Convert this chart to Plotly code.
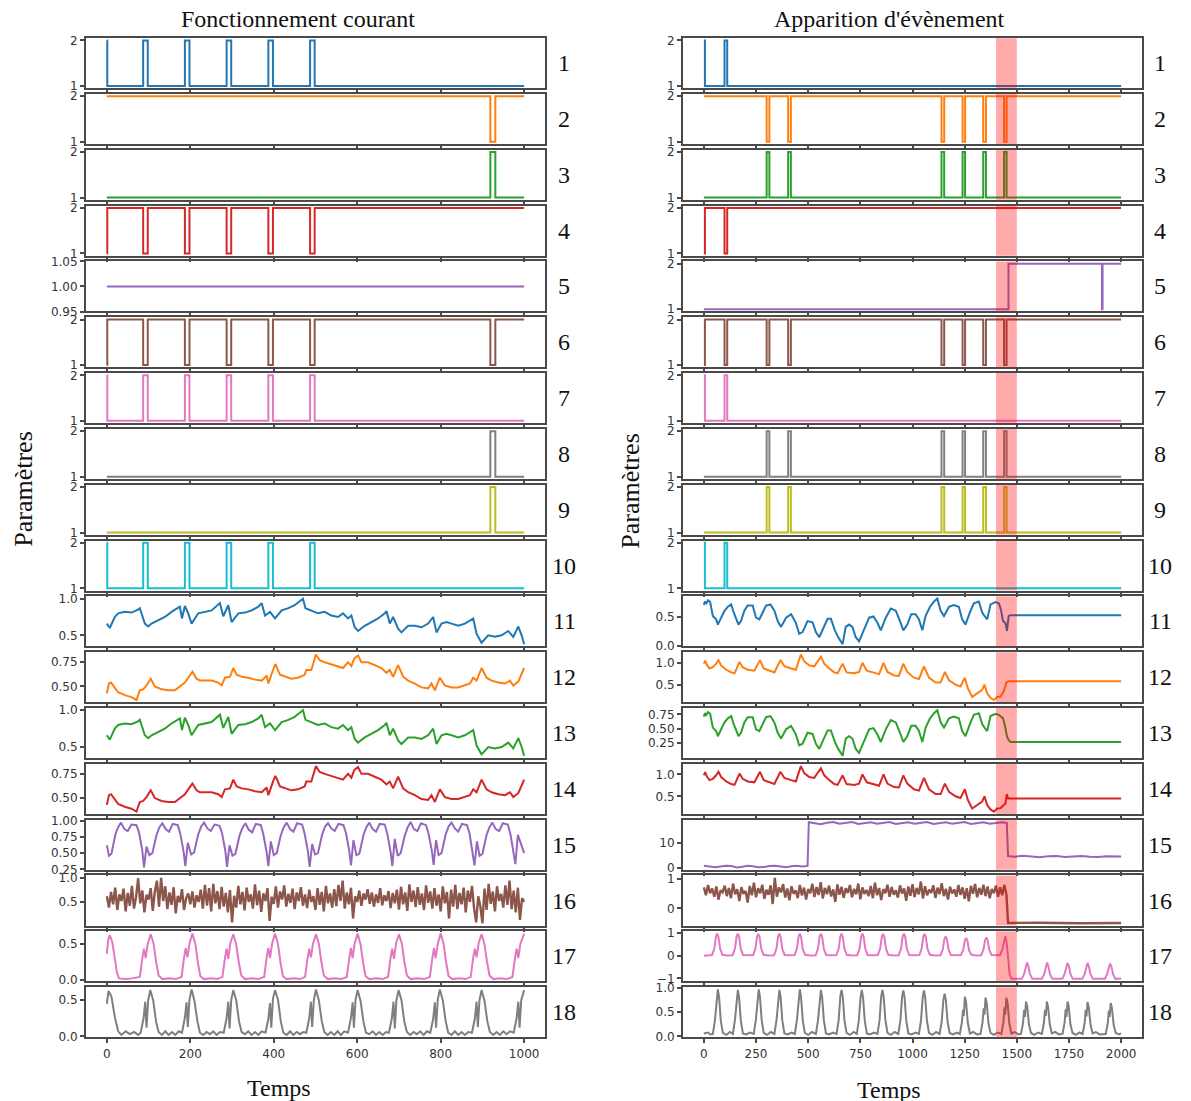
import plotly.graph_objects as go

# ---------------- DATA ----------------
# Left panel ("Fonctionnement courant"), time 0..1000 ; binary step series (change points)
L1_t = [0, 1, 87, 98, 187, 198, 287, 298, 387, 398, 487, 498, 1000]
L1_v = [2, 1, 2, 1, 2, 1, 2, 1, 2, 1, 2, 1, 1]
L2_t = [0, 919, 931, 1000]
L2_v = [2, 1, 2, 2]
L3_t = [0, 919, 931, 1000]
L3_v = [1, 2, 1, 1]
L4_t = [0, 1, 87, 98, 187, 198, 287, 298, 387, 398, 487, 498, 1000]
L4_v = [1, 2, 1, 2, 1, 2, 1, 2, 1, 2, 1, 2, 2]
L5_t = [0, 1000]
L5_v = [1, 1]
L6_t = [0, 1, 87, 98, 187, 198, 287, 298, 387, 398, 487, 498, 919, 931, 1000]
L6_v = [1, 2, 1, 2, 1, 2, 1, 2, 1, 2, 1, 2, 1, 2, 2]

L11_t = [0, 7, 19, 27, 43, 59, 75, 79, 91, 99, 107, 123, 139, 155, 175, 180, 187, 195, 203, 219,
         235, 251, 271, 279, 291, 299, 315, 331, 347, 363, 371, 379, 391, 403, 419, 435, 450, 462, 470, 476,
         490, 506, 522, 538, 554, 566, 578, 586, 594, 602, 618, 634, 650, 666, 670, 678, 686, 698, 706, 722,
         738, 754, 770, 782, 790, 802, 814, 826, 842, 858, 870, 878, 886, 898, 914, 930, 946, 962, 974, 986,
         994, 1000]
L11_v = [0.66, 0.60, 0.75, 0.80, 0.82, 0.81, 0.85, 0.87, 0.66, 0.62, 0.66, 0.70, 0.75, 0.82, 0.89, 0.73, 0.90, 0.80, 0.66, 0.80,
         0.82, 0.84, 0.94, 0.76, 0.91, 0.68, 0.80, 0.81, 0.84, 0.89, 0.94, 0.77, 0.82, 0.73, 0.84, 0.87, 0.91, 0.96, 1.00, 0.87,
         0.84, 0.80, 0.82, 0.77, 0.75, 0.80, 0.73, 0.77, 0.61, 0.56, 0.63, 0.68, 0.73, 0.80, 0.83, 0.66, 0.75, 0.59, 0.54, 0.63,
         0.63, 0.61, 0.66, 0.75, 0.54, 0.66, 0.68, 0.66, 0.63, 0.66, 0.70, 0.73, 0.52, 0.40, 0.50, 0.48, 0.50, 0.56, 0.48, 0.62,
         0.50, 0.38]

L12_t = [0, 5, 10, 19, 27, 43, 59, 71, 79, 87, 95, 105, 115, 131, 147, 163, 175, 187, 195, 205,
         215, 223, 235, 251, 267, 275, 283, 295, 303, 311, 323, 339, 355, 371, 383, 387, 399, 404, 415, 427,
         442, 458, 474, 478, 490, 501, 510, 522, 538, 554, 566, 578, 586, 593, 602, 610, 626, 642, 658, 670,
         678, 686, 698, 710, 722, 738, 754, 770, 778, 786, 798, 810, 826, 842, 858, 870, 878, 886, 898, 910,
         922, 938, 954, 966, 974, 986, 1000]
L12_v = [0.43, 0.53, 0.54, 0.48, 0.44, 0.41, 0.39, 0.36, 0.46, 0.47, 0.51, 0.58, 0.50, 0.47, 0.46, 0.46, 0.50, 0.54, 0.59, 0.65,
         0.58, 0.56, 0.56, 0.56, 0.54, 0.51, 0.59, 0.60, 0.69, 0.62, 0.60, 0.59, 0.57, 0.56, 0.61, 0.53, 0.68, 0.73, 0.62, 0.60,
         0.58, 0.59, 0.62, 0.67, 0.67, 0.83, 0.77, 0.75, 0.73, 0.71, 0.69, 0.75, 0.71, 0.79, 0.82, 0.75, 0.75, 0.72, 0.69, 0.64,
         0.67, 0.60, 0.72, 0.60, 0.56, 0.53, 0.49, 0.48, 0.53, 0.46, 0.59, 0.51, 0.49, 0.49, 0.51, 0.53, 0.59, 0.56, 0.69, 0.59,
         0.56, 0.54, 0.53, 0.56, 0.51, 0.55, 0.69]

L15_t = [0, 5, 11, 21, 27, 34, 42, 50, 59, 71, 77, 85, 89, 95,
         102, 109, 119, 126, 133, 141, 149, 158, 170, 176, 184, 188, 194,
         202, 209, 219, 226, 233, 241, 249, 258, 270, 276, 284, 288, 294,
         301, 308, 318, 325, 332, 340, 348, 357, 369, 375, 383, 387, 393,
         400, 407, 417, 424, 431, 439, 447, 456, 468, 474, 482, 486, 492,
         499, 506, 516, 523, 530, 538, 546, 555, 567, 573, 581, 585, 591,
         598, 605, 615, 622, 629, 637, 645, 654, 666, 672, 680, 684, 690,
         697, 704, 714, 721, 728, 736, 744, 753, 765, 771, 779, 783, 789,
         795, 802, 812, 819, 826, 834, 842, 851, 863, 869, 877, 881, 887,
         893, 900, 910, 917, 924, 932, 940, 949, 961, 967, 975, 979, 985, 1000]
L15_v = [0.62, 0.46, 0.49, 0.80, 0.90, 0.97, 0.87, 0.84, 0.94, 0.93, 0.82, 0.54, 0.28, 0.60,
         0.47, 0.50, 0.78, 0.90, 0.96, 0.87, 0.83, 0.95, 0.93, 0.80, 0.52, 0.30, 0.66,
         0.48, 0.51, 0.79, 0.91, 0.97, 0.88, 0.84, 0.94, 0.92, 0.81, 0.53, 0.29, 0.62,
         0.46, 0.49, 0.77, 0.89, 0.96, 0.86, 0.82, 0.95, 0.93, 0.79, 0.51, 0.30, 0.68,
         0.47, 0.50, 0.78, 0.90, 0.97, 0.87, 0.83, 0.96, 0.94, 0.80, 0.52, 0.29, 0.64,
         0.48, 0.50, 0.79, 0.91, 0.96, 0.88, 0.84, 0.95, 0.93, 0.81, 0.53, 0.31, 0.70,
         0.47, 0.49, 0.78, 0.90, 0.97, 0.87, 0.83, 0.95, 0.94, 0.80, 0.52, 0.30, 0.72,
         0.46, 0.50, 0.77, 0.90, 0.98, 0.87, 0.84, 0.96, 0.93, 0.80, 0.53, 0.32, 0.70,
         0.47, 0.50, 0.79, 0.91, 0.97, 0.88, 0.83, 0.95, 0.93, 0.81, 0.52, 0.31, 0.68,
         0.46, 0.49, 0.78, 0.90, 0.97, 0.87, 0.84, 0.96, 0.94, 0.80, 0.52, 0.33, 0.78, 0.50]

L16_step = 5  # sampling step of the noisy series (time units)
L16_v = [0.62, 0.38, 0.71, 0.45, 0.80, 0.33, 0.66, 0.52, 0.78, 0.30,
         0.69, 0.42, 0.84, 0.36, 0.60, 1.00, 0.47, 0.74, 0.28, 0.65,
         0.55, 0.79, 0.31, 0.72, 0.95, 0.40, 1.01, 0.52, 0.83, 0.35,
         0.70, 0.44, 0.81, 0.26, 0.63, 0.49, 0.77, 0.33, 0.58, 0.68,
         0.45, 0.72, 0.38, 0.64, 0.50, 0.76, 0.36, 0.86, 0.42, 0.79,
         0.30, 0.88, 0.47, 0.73, 0.35, 0.82, 0.40, 0.69, 0.28, 0.75,
         0.07, 0.63, 0.38, 0.84, 0.45, 0.71, 0.32, 0.80, 0.50, 0.66,
         0.36, 0.87, 0.43, 0.74, 0.29, 0.68, 0.52, 0.79, 0.10, 0.61,
         0.46, 0.83, 0.38, 0.72, 0.55, 0.85, 0.40, 0.67, 0.48, 0.78,
         0.35, 0.70, 0.52, 0.81, 0.42, 0.66, 0.37, 0.76, 0.50, 0.62,
         0.33, 0.79, 0.44, 0.71, 0.30, 0.84, 0.47, 0.68, 0.38, 0.77,
         0.41, 0.86, 0.52, 0.95, 0.36, 0.70, 0.45, 0.80, 0.15, 0.62,
         0.50, 0.74, 0.42, 0.68, 0.55, 0.77, 0.46, 0.70, 0.40, 0.66,
         0.48, 0.79, 0.43, 0.64, 0.52, 0.73, 0.37, 0.69, 0.47, 0.76,
         0.34, 0.82, 0.45, 0.70, 0.31, 0.87, 0.50, 0.74, 0.39, 0.81,
         0.44, 0.68, 0.33, 0.85, 0.48, 0.72, 0.36, 0.79, 0.42, 0.66,
         0.30, 0.83, 0.47, 0.71, 0.15, 0.76, 0.40, 0.86, 0.35, 0.69,
         0.45, 0.80, 0.28, 0.74, 0.50, 0.84, 0.37, 0.07, 0.62, 0.41,
         0.05, 0.78, 0.33, 0.88, 0.46, 0.72, 0.30, 0.83, 0.52, 0.67,
         0.38, 0.85, 0.44, 0.95, 0.35, 0.74, 0.28, 0.80, 0.12, 0.58,
         0.50]

L17_t = [0, 3, 7, 13, 19, 24, 29, 45, 60,
         79, 85, 89, 93, 98, 105, 112, 118, 124, 133, 150, 165,
         179, 185, 189, 193, 198, 205, 212, 218, 224, 233, 250, 265,
         277, 283, 287, 291, 296, 303, 310, 316, 322, 331, 348, 363,
         377, 383, 387, 391, 396, 403, 410, 416, 422, 431, 448, 463,
         475, 481, 485, 489, 494, 501, 508, 514, 520, 529, 546, 561,
         575, 581, 585, 589, 594, 601, 608, 614, 620, 629, 646, 661,
         674, 680, 684, 688, 693, 700, 707, 713, 719, 728, 745, 760,
         774, 780, 784, 788, 793, 800, 807, 813, 819, 828, 845, 860,
         872, 878, 882, 886, 891, 898, 905, 911, 917, 926, 943, 958,
         972, 978, 982, 986, 991, 1000]
L17_v = [0.36, 0.55, 0.62, 0.52, 0.30, 0.10, 0.02, 0.01, 0.02,
         0.04, 0.30, 0.43, 0.30, 0.50, 0.63, 0.50, 0.25, 0.06, 0.01, 0.02, 0.01,
         0.04, 0.31, 0.44, 0.31, 0.50, 0.64, 0.50, 0.24, 0.05, 0.01, 0.02, 0.01,
         0.04, 0.30, 0.43, 0.29, 0.51, 0.63, 0.49, 0.25, 0.06, 0.01, 0.02, 0.01,
         0.04, 0.31, 0.44, 0.30, 0.50, 0.64, 0.50, 0.24, 0.05, 0.01, 0.02, 0.01,
         0.04, 0.30, 0.43, 0.31, 0.50, 0.63, 0.50, 0.25, 0.06, 0.01, 0.02, 0.01,
         0.04, 0.30, 0.44, 0.30, 0.51, 0.64, 0.49, 0.24, 0.05, 0.01, 0.02, 0.01,
         0.04, 0.31, 0.43, 0.29, 0.50, 0.63, 0.50, 0.25, 0.06, 0.01, 0.02, 0.01,
         0.04, 0.30, 0.44, 0.30, 0.50, 0.64, 0.50, 0.24, 0.05, 0.01, 0.02, 0.01,
         0.04, 0.31, 0.43, 0.31, 0.51, 0.63, 0.49, 0.25, 0.06, 0.01, 0.02, 0.01,
         0.04, 0.30, 0.43, 0.30, 0.50, 0.64]

L18_t = [0, 4, 11, 19, 27, 35, 45, 55, 65, 75,
         81, 88, 92, 95, 99, 104, 111, 118, 124, 132, 140, 148, 156, 164, 172,
         180, 187, 191, 194, 198, 203, 210, 217, 223, 231, 239, 247, 255, 263, 271,
         280, 287, 291, 294, 298, 303, 310, 317, 323, 331, 339, 347, 355, 363, 371,
         380, 387, 391, 394, 398, 403, 410, 417, 423, 431, 439, 447, 455, 463, 471,
         478, 485, 489, 492, 496, 501, 508, 515, 521, 529, 537, 545, 553, 561, 569,
         578, 585, 589, 592, 596, 601, 608, 615, 621, 629, 637, 645, 653, 661, 669,
         676, 683, 687, 690, 694, 699, 706, 713, 719, 727, 735, 743, 751, 759, 767,
         775, 782, 786, 789, 793, 798, 805, 812, 818, 826, 834, 842, 850, 858, 866,
         875, 882, 886, 889, 893, 898, 905, 912, 918, 926, 934, 942, 950, 958, 966,
         975, 982, 986, 989, 993, 1000]
L18_v = [0.45, 0.63, 0.55, 0.27, 0.07, 0.02, 0.07, 0.03, 0.06, 0.02,
         0.05, 0.25, 0.48, 0.12, 0.50, 0.64, 0.50, 0.20, 0.06, 0.02, 0.07, 0.02, 0.06, 0.02, 0.07,
         0.05, 0.26, 0.47, 0.13, 0.51, 0.65, 0.49, 0.21, 0.05, 0.02, 0.06, 0.03, 0.07, 0.02, 0.06,
         0.05, 0.25, 0.48, 0.11, 0.50, 0.64, 0.50, 0.20, 0.06, 0.03, 0.07, 0.02, 0.06, 0.02, 0.07,
         0.05, 0.24, 0.46, 0.12, 0.52, 0.64, 0.51, 0.20, 0.05, 0.02, 0.07, 0.02, 0.06, 0.03, 0.06,
         0.05, 0.25, 0.48, 0.13, 0.50, 0.65, 0.50, 0.21, 0.06, 0.02, 0.06, 0.02, 0.07, 0.02, 0.07,
         0.05, 0.26, 0.47, 0.12, 0.51, 0.64, 0.49, 0.20, 0.05, 0.03, 0.07, 0.02, 0.06, 0.02, 0.06,
         0.05, 0.25, 0.48, 0.11, 0.50, 0.64, 0.50, 0.20, 0.06, 0.02, 0.06, 0.03, 0.07, 0.02, 0.07,
         0.05, 0.24, 0.47, 0.12, 0.51, 0.65, 0.50, 0.21, 0.05, 0.02, 0.07, 0.02, 0.06, 0.02, 0.06,
         0.05, 0.25, 0.48, 0.13, 0.50, 0.64, 0.49, 0.20, 0.06, 0.02, 0.06, 0.02, 0.07, 0.03, 0.07,
         0.05, 0.25, 0.48, 0.12, 0.50, 0.64]

# Right panel ("Apparition d'évènement"), time 0..2000
R1_t = [0, 5, 99, 112, 2000]
R1_v = [2, 1, 2, 1, 1]
R2_t = [0, 301, 314, 404, 417, 1139, 1152, 1240, 1252, 1339, 1352, 1439, 1451, 2000]
R2_v = [2, 1, 2, 1, 2, 1, 2, 1, 2, 1, 2, 1, 2, 2]
R3_t = [0, 301, 314, 404, 417, 1139, 1152, 1240, 1252, 1339, 1352, 1439, 1451, 2000]
R3_v = [1, 2, 1, 2, 1, 2, 1, 2, 1, 2, 1, 2, 1, 1]
R4_t = [0, 5, 99, 112, 2000]
R4_v = [1, 2, 1, 2, 2]
R5_t = [0, 1460, 1908, 1911, 2000]
R5_v = [1, 2, 1, 2, 2]
R6_t = [0, 5, 99, 112, 301, 314, 404, 417, 1139, 1152, 1240, 1252, 1339, 1352, 1439, 1451, 2000]
R6_v = [1, 2, 1, 2, 1, 2, 1, 2, 1, 2, 1, 2, 1, 2, 1, 2, 2]

R11_t = [0, 5, 12, 20, 30, 43, 59, 67, 83, 99, 115, 131, 143, 155, 166, 178, 194, 210, 234, 250,
         266, 282, 298, 319, 338, 354, 370, 394, 418, 441, 457, 473, 497, 521, 537, 553, 569, 593, 609, 628,
         644, 665, 680, 696, 712, 728, 744, 765, 792, 813, 832, 848, 872, 896, 920, 940, 956, 975, 994, 1015,
         1031, 1047, 1063, 1084, 1103, 1119, 1135, 1151, 1175, 1198, 1222, 1238, 1254, 1275, 1294, 1318, 1334, 1345, 1358, 1374,
         1398, 1414]
R11_v = [0.71, 0.77, 0.74, 0.79, 0.76, 0.52, 0.46, 0.37, 0.49, 0.61, 0.68, 0.72, 0.58, 0.46, 0.37, 0.43, 0.61, 0.70, 0.70, 0.49,
         0.46, 0.58, 0.70, 0.72, 0.61, 0.43, 0.33, 0.49, 0.55, 0.40, 0.21, 0.24, 0.43, 0.41, 0.24, 0.15, 0.27, 0.47, 0.47, 0.27,
         0.15, 0.03, 0.33, 0.37, 0.33, 0.15, 0.08, 0.27, 0.49, 0.51, 0.40, 0.27, 0.49, 0.65, 0.61, 0.43, 0.27, 0.37, 0.55, 0.55,
         0.46, 0.27, 0.52, 0.68, 0.77, 0.82, 0.61, 0.52, 0.68, 0.71, 0.68, 0.46, 0.37, 0.58, 0.74, 0.77, 0.58, 0.52, 0.46, 0.72,
         0.76, 0.74]
R11_tail_t = [1425, 1434, 1445, 1453, 1461, 1469, 2000]
R11_tail_v = [0.61, 0.43, 0.40, 0.26, 0.52, 0.53, 0.53]
R13_tail_t = [1425, 1434, 1445, 1453, 1461, 1470, 2000]
R13_tail_v = [0.71, 0.68, 0.52, 0.36, 0.30, 0.27, 0.27]

R12_t = [0, 6, 16, 27, 43, 59, 70, 83, 107, 131, 147, 171, 186, 210, 242, 269, 287, 314, 338, 367,
         386, 418, 441, 465, 481, 505, 529, 561, 577, 601, 625, 641, 665, 684, 720, 744, 760, 781, 816, 840,
         861, 880, 912, 935, 956, 975, 1007, 1031, 1055, 1079, 1111, 1135, 1155, 1175, 1206, 1230, 1251, 1265, 1286, 1310,
         1334, 1345, 1358, 1374, 1390, 1406, 1422]
R12_v = [0.98, 1.05, 0.94, 0.87, 0.90, 0.98, 1.06, 0.94, 0.84, 0.78, 0.76, 1.02, 0.90, 0.84, 0.82, 1.06, 0.87, 0.82, 0.78, 1.06,
         0.92, 0.87, 0.84, 1.19, 1.03, 0.94, 0.92, 1.14, 0.98, 0.87, 0.78, 0.76, 0.98, 0.78, 0.76, 0.79, 1.00, 0.82, 0.78, 0.74,
         1.00, 0.79, 0.71, 0.70, 0.98, 0.79, 0.66, 0.63, 0.92, 0.66, 0.55, 0.55, 0.79, 0.60, 0.50, 0.46, 0.66, 0.42, 0.22, 0.30,
         0.38, 0.50, 0.30, 0.20, 0.15, 0.22, 0.23]
R12_tail_t = [1437, 1450, 1461, 2000]
R12_tail_v = [0.34, 0.55, 0.58, 0.58]
R14_tail_t = [1437, 1445, 1452, 1458, 1470, 2000]
R14_tail_v = [0.30, 0.33, 0.55, 0.45, 0.45, 0.45]

R15_t = [0, 25, 55, 80, 105, 130, 160, 185, 210, 235, 260, 290, 315, 340, 365, 395, 420, 445, 470, 497,
         503, 530, 560, 590, 620, 650, 680, 710, 740, 770, 800, 830, 860, 890, 920, 950, 980, 1010, 1040, 1070,
         1100, 1130, 1160, 1190, 1220, 1250, 1280, 1310, 1340, 1370, 1400, 1430, 1452,
         1458, 1490, 1530, 1570, 1610, 1650, 1690, 1730, 1770, 1810, 1850, 1890, 1930, 1970, 2000]
R15_v = [1.0, 0.8, 0.4, 0.7, 1.0, 0.9, 0.3, 0.6, 1.0, 0.8, 0.4, 0.5, 0.9, 1.0, 0.6, 0.4, 0.8, 1.0, 0.7, 0.9,
         18.1, 17.6, 17.3, 17.9, 18.2, 17.5, 17.8, 18.2, 17.4, 17.9, 18.1, 17.5, 17.8, 18.2, 17.4, 17.9, 18.1, 17.5, 17.8, 18.2,
         17.4, 17.9, 18.1, 17.5, 17.8, 18.2, 17.4, 17.9, 18.1, 17.5, 17.9, 18.1, 17.8,
         4.8, 4.5, 4.9, 4.6, 4.3, 4.7, 4.8, 4.4, 4.6, 4.8, 4.5, 4.4, 4.7, 4.5, 4.6]

R16_step = 10
R16_v = [0.72, 0.45, 0.80, 0.52, 0.68, 0.40, 0.75, 0.30, 0.62, 0.55,
         0.78, 0.42, 0.70, 0.35, 0.85, 0.48, 0.66, 0.25, 0.73, 0.50,
         0.60, 0.20, 0.77, 0.45, 0.88, 0.38, 0.69, 0.52, 0.81, 0.33,
         0.64, 0.47, 0.79, 0.15, 1.05, 0.40, 0.72, 0.55, 0.83, 0.37,
         0.68, 0.28, 0.76, 0.50, 0.62, 0.35, 0.80, 0.44, 0.71, 0.30,
         0.66, 0.52, 0.84, 0.39, 0.73, 0.46, 0.90, 0.34, 0.70, 0.49,
         0.78, 0.41, 0.65, 0.22, 0.82, 0.47, 0.74, 0.36, 0.69, 0.53,
         0.80, 0.38, 0.67, 0.48, 0.85, 0.31, 0.72, 0.50, 0.63, 0.42,
         0.77, 0.35, 0.88, 0.45, 0.70, 0.29, 0.66, 0.52, 0.81, 0.40,
         0.73, 0.47, 0.62, 0.37, 0.79, 0.51, 0.68, 0.26, 0.75, 0.43,
         0.83, 0.39, 0.70, 0.48, 0.92, 0.34, 0.76, 0.45, 0.64, 0.53,
         0.79, 0.36, 0.71, 0.49, 0.86, 0.42, 0.67, 0.30, 0.74, 0.51,
         0.65, 0.40, 0.80, 0.46, 0.72, 0.33, 0.69, 0.24, 0.77, 0.50,
         0.84, 0.38, 0.70, 0.47, 0.81, 0.42, 0.75, 0.35, 0.66, 0.52,
         0.78, 0.40, 0.72, 0.45, 0.80, 0.48]
R16_tail_t = [1458, 1600, 1800, 2000]
R16_tail_v = [-0.50, -0.49, -0.51, -0.50]

R17_t = [0, 20,
         39, 50, 58, 64, 70, 78, 89, 113,
         138, 149, 157, 163, 169, 177, 188, 212,
         236, 247, 255, 261, 267, 275, 286, 311,
         337, 348, 356, 362, 368, 376, 387, 411,
         435, 446, 454, 460, 466, 474, 485, 510,
         536, 547, 555, 561, 567, 575, 586, 610,
         635, 646, 654, 660, 666, 674, 685, 710,
         735, 746, 754, 760, 766, 774, 785, 810,
         834, 845, 853, 859, 865, 873, 884, 909,
         934, 945, 953, 959, 965, 973, 984, 1008,
         1033, 1044, 1052, 1058, 1064, 1072, 1083, 1108,
         1134, 1145, 1153, 1159, 1165, 1173, 1184, 1208,
         1232, 1243, 1251, 1257, 1263, 1271, 1282, 1305,
         1329, 1340, 1348, 1354, 1360, 1368, 1379, 1400,
         1420, 1431, 1439, 1445, 1451, 1458, 1466, 1475, 1500,
         1524, 1535, 1543, 1549, 1555, 1563, 1574, 1597,
         1620, 1631, 1639, 1645, 1651, 1659, 1670, 1694,
         1718, 1729, 1737, 1743, 1749, 1757, 1768, 1791,
         1814, 1825, 1833, 1839, 1845, 1853, 1864, 1895,
         1922, 1933, 1941, 1947, 1953, 1961, 1972, 2000]
R17_v = [0.00, 0.03,
         0.03, 0.30, 0.84, 0.97, 0.82, 0.30, 0.04, 0.01,
         0.02, 0.31, 0.85, 0.97, 0.83, 0.29, 0.03, 0.02,
         0.03, 0.30, 0.84, 0.96, 0.82, 0.30, 0.04, 0.01,
         0.02, 0.31, 0.85, 0.97, 0.83, 0.30, 0.03, 0.02,
         0.03, 0.30, 0.84, 0.97, 0.82, 0.29, 0.04, 0.01,
         0.02, 0.31, 0.85, 0.96, 0.83, 0.30, 0.03, 0.02,
         0.03, 0.30, 0.84, 0.97, 0.82, 0.30, 0.04, 0.01,
         0.02, 0.30, 0.85, 0.97, 0.83, 0.29, 0.03, 0.02,
         0.03, 0.31, 0.84, 0.96, 0.82, 0.30, 0.04, 0.01,
         0.02, 0.30, 0.85, 0.97, 0.83, 0.30, 0.03, 0.02,
         0.03, 0.31, 0.84, 0.96, 0.82, 0.29, 0.04, 0.01,
         0.02, 0.27, 0.73, 0.85, 0.72, 0.26, 0.03, 0.02,
         0.03, 0.25, 0.67, 0.78, 0.66, 0.24, 0.04, 0.01,
         0.02, 0.26, 0.69, 0.80, 0.68, 0.25, 0.03, 0.02,
         0.03, 0.28, 0.72, 0.85, 0.60, -0.20, -0.85, -1.02, -1.03,
         -1.02, -0.80, -0.45, -0.30, -0.45, -0.80, -1.02, -1.03,
         -1.02, -0.81, -0.46, -0.31, -0.46, -0.81, -1.02, -1.03,
         -1.02, -0.80, -0.45, -0.32, -0.45, -0.80, -1.02, -1.03,
         -1.02, -0.81, -0.46, -0.32, -0.46, -0.81, -1.02, -1.03,
         -1.02, -0.80, -0.47, -0.35, -0.47, -0.80, -1.02, -1.00]

R18_t = [0, 20, 32,
         43, 53, 61, 67, 73, 81, 91, 107, 125,
         139, 149, 157, 163, 169, 177, 187, 203, 221,
         239, 249, 257, 263, 269, 277, 287, 303, 321,
         338, 348, 356, 362, 368, 376, 386, 402, 420,
         436, 446, 454, 460, 466, 474, 484, 500, 518,
         537, 547, 555, 561, 567, 575, 585, 601, 619,
         636, 646, 654, 660, 666, 674, 684, 700, 718,
         733, 743, 751, 757, 763, 771, 781, 797, 815,
         832, 842, 850, 856, 862, 870, 880, 896, 914,
         932, 942, 950, 956, 962, 970, 980, 996, 1014,
         1031, 1041, 1049, 1055, 1061, 1069, 1079, 1095, 1113,
         1130, 1140, 1148, 1154, 1160, 1168, 1178, 1194, 1212,
         1227, 1237, 1242, 1246, 1251, 1257, 1265, 1275, 1291, 1309,
         1326, 1336, 1341, 1345, 1350, 1356, 1364, 1374, 1390, 1408,
         1426, 1436, 1441, 1445, 1450, 1456, 1464, 1474, 1490, 1508,
         1520, 1530, 1535, 1539, 1544, 1550, 1558, 1568, 1584, 1602,
         1620, 1630, 1635, 1639, 1644, 1650, 1658, 1668, 1684, 1702,
         1719, 1729, 1734, 1738, 1743, 1749, 1757, 1767, 1783, 1801,
         1815, 1825, 1830, 1834, 1839, 1845, 1853, 1863, 1879, 1897,
         1926, 1936, 1941, 1945, 1950, 1956, 1964, 1974, 1990, 2000]
R18_v = [0.06, 0.08, 0.04,
         0.05, 0.33, 0.82, 0.97, 0.81, 0.33, 0.07, 0.03, 0.09,
         0.05, 0.34, 0.81, 0.96, 0.80, 0.33, 0.06, 0.04, 0.08,
         0.05, 0.33, 0.82, 0.97, 0.81, 0.34, 0.07, 0.03, 0.09,
         0.05, 0.33, 0.81, 0.96, 0.81, 0.33, 0.06, 0.04, 0.08,
         0.05, 0.34, 0.82, 0.97, 0.80, 0.33, 0.07, 0.03, 0.09,
         0.05, 0.33, 0.81, 0.96, 0.81, 0.34, 0.06, 0.04, 0.08,
         0.05, 0.33, 0.82, 0.96, 0.81, 0.33, 0.07, 0.03, 0.09,
         0.05, 0.34, 0.81, 0.96, 0.80, 0.33, 0.06, 0.04, 0.08,
         0.05, 0.33, 0.82, 0.96, 0.81, 0.34, 0.07, 0.03, 0.09,
         0.05, 0.33, 0.81, 0.95, 0.81, 0.33, 0.06, 0.04, 0.08,
         0.05, 0.34, 0.81, 0.95, 0.80, 0.33, 0.07, 0.03, 0.09,
         0.05, 0.31, 0.75, 0.88, 0.75, 0.31, 0.07, 0.04, 0.08,
         0.05, 0.30, 0.55, 0.42, 0.82, 0.70, 0.28, 0.06, 0.09, 0.04,
         0.05, 0.30, 0.58, 0.45, 0.80, 0.68, 0.27, 0.07, 0.03, 0.08,
         0.05, 0.30, 0.60, 0.45, 0.80, 0.68, 0.27, 0.06, 0.09, 0.04,
         0.05, 0.28, 0.55, 0.40, 0.72, 0.61, 0.25, 0.07, 0.03, 0.08,
         0.05, 0.28, 0.55, 0.42, 0.72, 0.61, 0.25, 0.06, 0.09, 0.04,
         0.05, 0.28, 0.56, 0.40, 0.72, 0.61, 0.25, 0.07, 0.03, 0.08,
         0.05, 0.27, 0.55, 0.41, 0.71, 0.60, 0.25, 0.06, 0.09, 0.04,
         0.05, 0.27, 0.53, 0.40, 0.69, 0.58, 0.24, 0.07, 0.04, 0.06]

EVENT_SPAN = [1400, 1500]
TITLES = ["Fonctionnement courant", "Apparition d'évènement"]
ROW_LABELS = [str(i) for i in range(1, 19)]

LEFT_XTICKS = [0, 200, 400, 600, 800, 1000]
RIGHT_XTICKS = [0, 250, 500, 750, 1000, 1250, 1500, 1750, 2000]

B12 = ([1, 2], ["1", "2"])
LEFT_YTICKS = [B12, B12, B12, B12, ([0.95, 1.0, 1.05], ["0.95", "1.00", "1.05"]), B12, B12, B12, B12, B12,
               ([0.5, 1.0], ["0.5", "1.0"]), ([0.5, 0.75], ["0.50", "0.75"]),
               ([0.5, 1.0], ["0.5", "1.0"]), ([0.5, 0.75], ["0.50", "0.75"]),
               ([0.25, 0.5, 0.75, 1.0], ["0.25", "0.50", "0.75", "1.00"]), ([0.5, 1.0], ["0.5", "1.0"]),
               ([0.0, 0.5], ["0.0", "0.5"]), ([0.0, 0.5], ["0.0", "0.5"])]
RIGHT_YTICKS = [B12] * 10 + [([0.0, 0.5], ["0.0", "0.5"]), ([0.5, 1.0], ["0.5", "1.0"]),
                             ([0.25, 0.5, 0.75], ["0.25", "0.50", "0.75"]), ([0.5, 1.0], ["0.5", "1.0"]),
                             ([0, 10], ["0", "10"]), ([0, 1], ["0", "1"]),
                             ([-1, 0, 1], ["\u22121", "0", "1"]), ([0.0, 0.5, 1.0], ["0.0", "0.5", "1.0"])]

TAB10 = ["#1f77b4", "#ff7f0e", "#2ca02c", "#d62728", "#9467bd",
         "#8c564b", "#e377c2", "#7f7f7f", "#bcbd22", "#17becf"]
ROW_COLORS = TAB10 + TAB10[:8]

# ---------------- BUILD ----------------
L16_t = [i * L16_step for i in range(len(L16_v))]
R16_t = [i * R16_step for i in range(len(R16_v))]

left_series = [
    (L1_t, L1_v, True), (L2_t, L2_v, True), (L3_t, L3_v, True), (L4_t, L4_v, True),
    (L5_t, L5_v, True), (L6_t, L6_v, True), (L1_t, L1_v, True), (L3_t, L3_v, True),
    (L3_t, L3_v, True), (L1_t, L1_v, True),
    (L11_t, L11_v, False), (L12_t, L12_v, False), (L11_t, L11_v, False), (L12_t, L12_v, False),
    (L15_t, L15_v, False), (L16_t, L16_v, False), (L17_t, L17_v, False), (L18_t, L18_v, False),
]
right_series = [
    (R1_t, R1_v, True), (R2_t, R2_v, True), (R3_t, R3_v, True), (R4_t, R4_v, True),
    (R5_t, R5_v, True), (R6_t, R6_v, True), (R1_t, R1_v, True), (R3_t, R3_v, True),
    (R3_t, R3_v, True), (R1_t, R1_v, True),
    (R11_t + R11_tail_t, R11_v + R11_tail_v, False),
    (R12_t + R12_tail_t, R12_v + R12_tail_v, False),
    (R11_t + R13_tail_t, R11_v + R13_tail_v, False),
    (R12_t + R14_tail_t, R12_v + R14_tail_v, False),
    (R15_t, R15_v, False),
    (R16_t + R16_tail_t, R16_v + R16_tail_v, False),
    (R17_t, R17_v, False), (R18_t, R18_v, False),
]

# page geometry (html body has an 8px margin); the photographed page is slightly
# compressed vertically, so target screenshot y positions are converted back to page y
OFF = 8
W, H = 1191 - 2 * OFF, 1101
VS, VO = 0.986, 7.0


def px(x):
    return (x - OFF) / W


def py(y_target):
    y_page = (y_target - VO) / VS
    return 1 - (y_page - OFF) / H


TOP, PITCH, BOXH = 38.0, 55.75, 50.0
COL_X = [(86, 545), (683, 1142)]
XRANGES = [[-50, 1050], [-100, 2100]]
XTICKS = [LEFT_XTICKS, RIGHT_XTICKS]
YTICKS = [LEFT_YTICKS, RIGHT_YTICKS]
NUM_X = [564, 1160]

SERIF = "Liberation Serif, Times New Roman, serif"
SANS = "DejaVu Sans, sans-serif"


def yrange(vals):
    lo, hi = min(vals), max(vals)
    if hi == lo:
        return [lo - 0.05 * abs(lo), hi + 0.05 * abs(hi)]
    d = hi - lo
    return [lo - 0.05 * d, hi + 0.05 * d]


fig = go.Figure()
layout = {}
shapes = []
annotations = []

for c, series in enumerate([left_series, right_series]):
    for r, (t, v, binary) in enumerate(series):
        idx = c * 18 + r + 1
        xa = "x" if idx == 1 else f"x{idx}"
        ya = "y" if idx == 1 else f"y{idx}"
        top = TOP + r * PITCH
        ydom = [py(top + BOXH), py(top)]
        xdom = [px(COL_X[c][0]), px(COL_X[c][1])]
        width = 2.4 if r == 15 else 2.0
        fig.add_trace(go.Scatter(
            x=t, y=v, mode="lines", xaxis=xa, yaxis=ya,
            line=dict(color=ROW_COLORS[r], width=width, shape="hv" if binary else "linear"),
            hoverinfo="skip", showlegend=False))
        tv, tt = YTICKS[c][r]
        common = dict(showline=True, mirror=True, linecolor="#4a4a4a", linewidth=2,
                      showgrid=False, zeroline=False, ticks="outside", ticklen=4,
                      tickwidth=1.5, tickcolor="#4a4a4a",
                      tickfont=dict(family=SANS, size=12, color="#333333"))
        layout["xaxis" if idx == 1 else f"xaxis{idx}"] = dict(
            domain=xdom, anchor=ya, range=XRANGES[c], tickmode="array",
            tickvals=XTICKS[c], ticktext=[str(x) for x in XTICKS[c]],
            showticklabels=(r == 17), **common)
        layout["yaxis" if idx == 1 else f"yaxis{idx}"] = dict(
            domain=ydom, anchor=xa, range=yrange(v), tickmode="array",
            tickvals=tv, ticktext=tt, **common)
        if c == 1:
            shapes.append(dict(type="rect", xref=xa, yref=f"{ya} domain",
                               x0=EVENT_SPAN[0], x1=EVENT_SPAN[1], y0=0, y1=1,
                               fillcolor="rgba(255,0,0,0.33)", line=dict(width=0),
                               layer="above"))
        annotations.append(dict(text=ROW_LABELS[r], xref="paper", yref="paper",
                                x=px(NUM_X[c]), y=py(top + BOXH / 2),
                                xanchor="center", yanchor="middle", showarrow=False,
                                font=dict(family=SERIF, size=24, color="#111111")))

# titles and axis labels
for cx, ttl in zip([298, 890], TITLES):
    annotations.append(dict(text=ttl, xref="paper", yref="paper", x=px(cx), y=py(19),
                            xanchor="center", yanchor="middle", showarrow=False,
                            font=dict(family=SERIF, size=24, color="#111111")))
for cx, cy in [(279, 1086), (889, 1088)]:
    annotations.append(dict(text="Temps", xref="paper", yref="paper", x=px(cx), y=py(cy),
                            xanchor="center", yanchor="middle", showarrow=False,
                            font=dict(family=SERIF, size=24, color="#111111")))
for cx, cy in [(24, 488), (631, 490)]:
    annotations.append(dict(text="Paramètres", xref="paper", yref="paper", x=px(cx), y=py(cy),
                            xanchor="center", yanchor="middle", showarrow=False, textangle=-90,
                            font=dict(family=SERIF, size=26, color="#111111")))

fig.update_layout(width=W, height=H, margin=dict(l=0, r=0, t=0, b=0),
                  paper_bgcolor="white", plot_bgcolor="white",
                  shapes=shapes, annotations=annotations, **layout)

fig.write_html("out.html", config={"displayModeBar": False})
